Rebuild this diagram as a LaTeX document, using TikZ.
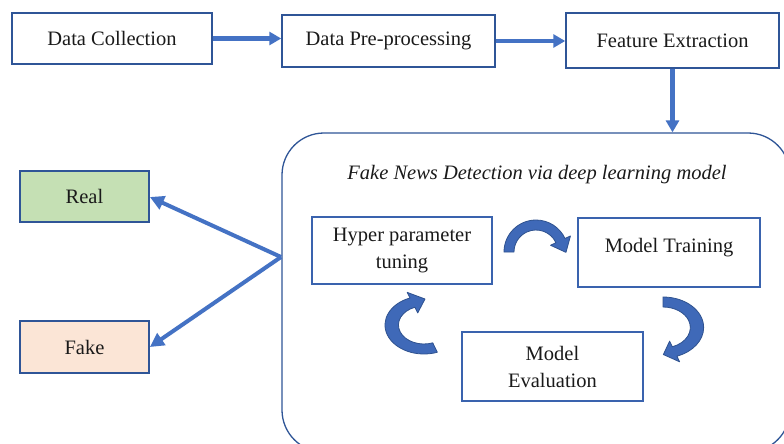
\documentclass[tikz,border=0pt]{standalone}
\usepackage{fontspec}
\setmainfont{Liberation Serif}
\usetikzlibrary{arrows.meta}
\definecolor{arrowblue}{HTML}{4472C4}
\definecolor{edgeblue}{HTML}{2F5597}
\definecolor{inblue}{HTML}{3A63AE}
\definecolor{bendfill}{HTML}{3F69B8}
\definecolor{bendedge}{HTML}{2F528F}
\definecolor{realfill}{HTML}{C5E0B4}
\definecolor{fakefill}{HTML}{FBE5D6}
\definecolor{ink}{HTML}{1A1A1A}
% curved band arrow: #1 inner r, #2 outer R, #3 start angle, #4 end angle, #5 head length, #6 wing
\newcommand\bendarrow[6]{%
  \filldraw[bendstyle] (#3:#2) arc[start angle=#3,end angle=#4,radius=#2]
    -- (#4:{#2+#6})
    -- ({#4+atan(#5/((#1+#2)/2))}:{sqrt(((#1+#2)/2)^2+(#5)^2)})
    -- (#4:{#1-#6}) -- (#4:#1)
    arc[start angle=#4,end angle=#3,radius=#1] -- cycle;}
\begin{document}
\begin{tikzpicture}[x=1pt,y=-1pt,
  every node/.style={font=\fontsize{20.5}{27}\selectfont, text=ink},
  topbox/.style={draw=edgeblue, line width=1.5pt, fill=white, inner sep=0pt},
  inbox/.style={draw=inblue, line width=1.5pt, fill=white, inner sep=0pt, align=center},
  classbox/.style={draw=edgeblue, line width=1.8pt, inner sep=0pt},
  bigbox/.style={draw=edgeblue, line width=1.3pt, rounded corners=42pt, inner sep=0pt},
  flow/.style={draw=arrowblue, line width=4.5pt, -{Triangle[length=12pt,width=13pt]}},
  bendstyle/.style={fill=bendfill, draw=bendedge, line width=0.8pt, line join=round}]
\useasboundingbox (0,0) rectangle (784,444);
\clip (0,0) rectangle (784,444);
\fill[white] (0,0) rectangle (784,444);

% big container
\node[bigbox, minimum width=508pt, minimum height=319pt] (big) at (536,292.5) {};
\node[font=\fontsize{20.5}{27}\selectfont\itshape] (title) at (537,175)
  {Fake News Detection via deep learning model};

% top row
\node[topbox, minimum width=200pt, minimum height=51pt] (dc) at (112,38.5) {Data Collection};
\node[topbox, minimum width=213pt, minimum height=52pt] (dp) at (388.5,41) {Data Pre-processing};
\node[topbox, minimum width=213pt, minimum height=55pt] (fe) at (672.5,40.5) {Feature Extraction};

\draw[flow] (dc.east) -- (dc.east -| dp.west);
\draw[flow] (dp.east) -- (dp.east -| fe.west);
\draw[flow] (fe.south) -- (fe.south |- big.north);

% inner loop
\node[inbox, minimum width=180pt, minimum height=67pt] (hp) at (402,250.5) {Hyper parameter\\tuning};
\node[inbox, minimum width=182pt, minimum height=69pt, text height=14pt, text depth=14pt] (mt) at (669,252.5) {Model Training};
\node[inbox, minimum width=181pt, minimum height=69pt] (me) at (552.5,366.5) {Model\\Evaluation};

% curved arrows
\begin{scope}[shift={(536,252)}]
  \bendarrow{22}{32}{180}{335}{13}{6}
\end{scope}
\begin{scope}[shift={(663,327.5)}, xscale=1.333]
  \bendarrow{20.5}{30.5}{270}{430}{9}{6}
\end{scope}
\begin{scope}[shift={(424,325)}, xscale=1.345]
  \bendarrow{19}{29}{70}{249}{10}{6}
\end{scope}

% classes
\node[classbox, fill=realfill, minimum width=129pt, minimum height=51pt] (real) at (84.5,196.5) {Real};
\node[classbox, fill=fakefill, minimum width=129pt, minimum height=52pt] (fake) at (84.5,347) {Fake};
\coordinate (split) at (281,257);
\draw[flow, line width=4pt, -{Triangle[length=14pt,width=14pt]}] (split) -- ([yshift=-0.5pt]real.east);
\draw[flow, line width=4pt, -{Triangle[length=14pt,width=14pt]}] (split) -- (fake.east);
\end{tikzpicture}
\end{document}
